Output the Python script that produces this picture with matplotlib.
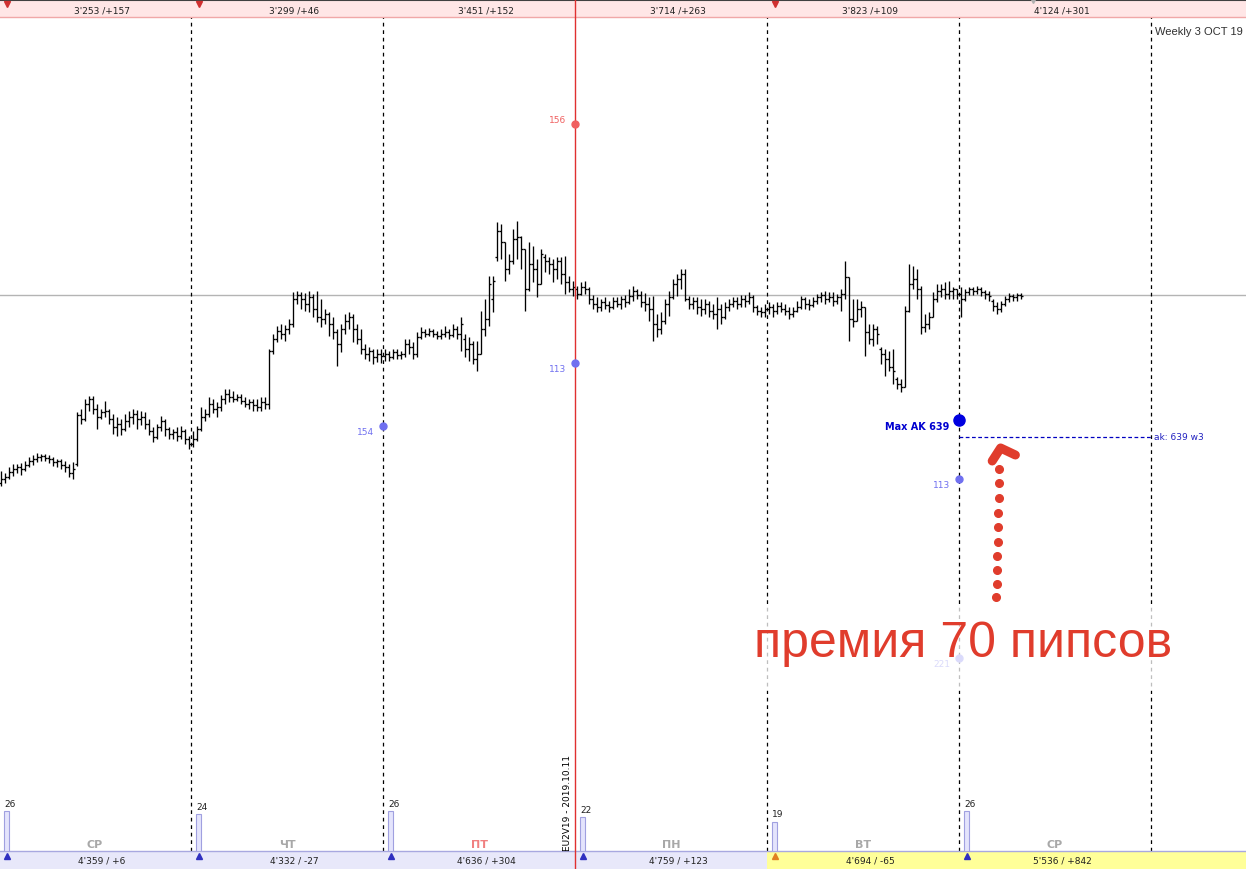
import numpy as np
import matplotlib
matplotlib.use('Agg')
from matplotlib import pyplot as plt
from matplotlib.patches import Rectangle

# half-hour bars, price in points (48 bars per day)
opens = [
    116,120,122,127,130,132,130,134,138,140,142,143,141,140,137,138,134,132,126,135,184,180,195,200,190,182,187,188,180,172,175,170,178,182,185,180,182,175,168,162,172,178,170,165,167,163,168,160,
    155,160,170,182,185,195,190,192,200,205,202,200,202,198,195,197,194,192,197,195,248,260,268,265,270,275,300,304,300,295,302,290,282,280,285,275,267,255,270,278,282,270,260,250,245,248,242,245,
    243,245,242,247,244,245,255,252,245,262,267,265,268,265,263,265,267,264,270,265,260,250,255,240,245,270,280,300,342,368,357,330,338,360,362,350,310,335,330,315,342,338,335,330,338,325,317,310,
    310,305,312,310,300,295,292,297,294,292,298,295,300,297,303,308,304,297,295,290,275,270,278,295,302,315,320,325,300,295,298,292,290,295,288,285,290,282,292,295,298,295,300,298,302,292,288,287,
    290,292,288,293,290,288,285,288,292,300,295,294,298,302,304,300,302,298,302,305,322,280,278,290,292,267,260,270,250,245,240,232,220,215,212,288,315,320,310,272,275,282,300,308,310,305,308,310,
    305,300,307,310,308,310,307,305,298,293,290,295,300,303,302,304]
highs = [
    128,126,132,135,135,136,138,142,144,146,145,145,144,142,140,140,138,135,137,187,190,200,203,203,195,190,198,190,185,182,180,185,188,190,189,188,187,180,172,175,183,180,172,170,172,173,170,163,
    168,173,192,190,202,200,197,204,210,210,208,205,205,202,200,200,200,202,202,250,265,273,275,274,280,307,308,307,306,308,305,308,300,290,287,282,270,275,285,287,285,275,270,255,252,250,250,250,
    250,248,250,250,248,260,260,257,267,272,270,271,270,268,270,273,270,275,273,282,265,262,258,258,288,300,323,323,377,375,357,345,370,378,363,350,357,353,340,350,345,342,340,342,342,343,323,318,
    313,317,318,312,304,302,300,302,298,302,302,303,304,310,313,310,308,306,302,303,285,287,300,308,320,325,330,330,303,302,302,300,300,298,295,302,295,297,300,302,302,304,304,307,304,294,292,295,
    297,295,297,297,295,292,292,298,303,302,300,302,305,307,308,307,307,305,310,338,322,300,300,298,292,275,275,273,252,250,248,250,222,220,293,335,333,330,313,285,287,307,315,315,317,318,312,310,
    312,310,312,312,313,312,309,308,300,297,298,303,306,305,306,306]
lows = [
    113,116,120,123,126,124,128,132,134,137,138,138,136,133,132,130,127,122,120,133,175,178,188,185,170,180,182,175,165,163,164,168,172,175,170,174,170,164,157,160,168,163,160,160,158,160,155,150,
    152,158,168,178,182,186,182,188,195,197,197,198,195,192,190,188,188,188,190,190,245,257,260,258,265,272,295,290,288,287,282,277,272,275,263,260,233,247,265,270,257,255,245,240,238,235,237,236,
    238,238,240,240,240,242,245,240,242,260,262,263,262,260,260,262,260,262,260,248,242,238,235,228,245,263,273,287,338,340,318,325,335,340,330,288,308,317,302,315,327,325,317,320,315,305,307,303,
    300,304,305,295,290,287,288,290,287,290,292,290,292,295,298,300,292,288,278,258,262,265,275,283,300,303,310,298,290,290,285,283,285,282,280,270,275,280,288,292,290,292,292,295,287,284,282,282,
    285,282,285,287,284,280,282,287,290,290,289,292,295,297,295,297,293,295,288,300,258,272,278,282,243,255,253,255,235,223,228,215,210,207,212,287,310,300,265,267,270,282,297,302,300,300,300,300,
    282,298,304,304,305,303,300,298,288,285,287,293,297,298,298,300]
closes = [
    120,122,127,130,132,130,134,138,140,142,143,141,140,137,138,134,132,126,130,184,180,195,200,190,182,187,188,180,172,175,170,178,182,185,180,182,175,168,162,172,178,170,165,167,163,168,160,155,
    160,170,182,185,195,190,192,200,205,202,200,202,198,195,197,194,192,197,195,248,260,268,265,270,275,300,304,300,295,302,290,282,280,285,275,267,255,270,278,282,270,260,250,245,248,242,245,243,
    245,242,247,244,245,255,252,245,262,267,265,268,265,263,265,267,264,270,265,275,250,255,240,245,270,280,315,318,368,357,330,338,360,362,350,310,335,330,315,345,338,335,330,338,325,317,310,312,
    305,312,310,300,295,292,297,294,292,298,295,300,297,303,308,304,297,295,290,275,270,278,295,302,315,320,325,300,295,298,292,290,295,288,285,290,282,292,295,298,295,300,298,302,292,288,287,290,
    292,288,293,290,288,285,288,292,300,295,294,298,302,304,300,302,298,302,305,322,280,278,290,292,267,260,270,265,245,240,232,228,215,212,288,315,320,310,272,275,282,300,308,310,305,308,310,305,
    300,307,310,308,310,307,305,303,293,290,295,300,303,302,304,303]
last_price = 304

day_names = ['СР', 'ЧТ', 'ПТ', 'ПН', 'ВТ', 'СР']
top_labels = ["3'253 /+157", "3'299 /+46", "3'451 /+152", "3'714 /+263", "3'823 /+109", "4'124 /+301"]
bottom_labels = ["4'359 / +6", "4'332 / -27", "4'636 / +304", "4'759 / +123", "4'694 / -65", "5'536 / +842"]
day_counts = [26, 24, 26, 22, 19, 26]

# levels on the day separators: (bar position, price, label, colour)
levels = [(143.5, 475, '156', '#f06060'),
          (143.5, 236, '113', '#7070f0'),
          (95.5, 173, '154', '#7070f0'),
          (239.5, 120, '113', '#7070f0'),
          (239.5, -59, '221', '#7070f0')]
max_ak = 179
ak_level = 162
arrow_dots = [2, 15, 29, 43, 57, 72, 86, 101, 116, 130]

BARS_PER_DAY = 48
seps = np.arange(-0.5, 288, BARS_PER_DAY)

fig = plt.figure(figsize=(12.46, 8.70), dpi=100)
ax = fig.add_axes([0, 0, 1, 1])
ax.set_xlim(-0.25, 311.25)
ax.set_ylim(-270, 600)
ax.axis('off')

x = np.arange(len(closes))
ax.axhline(last_price, color='#b4b4b4', lw=1.0, zorder=1)
ax.vlines(x, lows, highs, color='black', lw=0.95, zorder=3)
ax.hlines(opens, x - 0.45, x, color='black', lw=0.95, zorder=3)
ax.hlines(closes, x, x + 0.45, color='black', lw=0.95, zorder=3)

# day separators
for s in seps[1:]:
    if s == 143.5:
        continue
    ax.vlines(s, -252, 582, color='black', lw=0.9, linestyles=(0, (3, 3)), zorder=2)
ax.axvline(143.5, color='#e03030', lw=1.0, zorder=6)

# top and bottom strips
ax.add_patch(Rectangle((-0.25, 582), 311.5, 18, facecolor='#ffe6e6', edgecolor='none', zorder=4))
ax.axhline(582, color='#f0a8a8', lw=1.0, zorder=5)
ax.axhline(599.5, color='#404040', lw=1.5, zorder=5)
ax.add_patch(Rectangle((-0.25, -270), 191.75, 18, facecolor='#e8e8fa', edgecolor='none', zorder=4))
ax.add_patch(Rectangle((191.5, -270), 120, 18, facecolor='#ffff99', edgecolor='none', zorder=4))
ax.axhline(-252, color='#a8a8e0', lw=1.0, zorder=5)

for k in range(6):
    c = seps[k] + BARS_PER_DAY / 2
    ax.text(c + 1.75, 589, top_labels[k], ha='center', va='center', fontsize=6.5, color='#202020', zorder=7)
    ax.text(c + 1.75, -261, bottom_labels[k], ha='center', va='center', fontsize=6.5, color='#202020', zorder=7)
    ax.text(c, -245, day_names[k], ha='center', va='center', fontsize=8, fontweight='bold',
            color='#f08080' if day_names[k] == 'ПТ' else '#a8a8a8', zorder=7)
    ax.plot(seps[k] + 2, -257, marker='^', ms=5, color='#e08020' if k == 4 else '#3030c0', zorder=7)
for k in [0, 1, 4]:
    ax.plot(seps[k] + 2, 595, marker='v', ms=5, color='#d03030', zorder=7)
ax.plot(258, 599, marker='v', ms=5, color='#b0b0b0', zorder=7)

# counts per day
axv = fig.add_axes([0, 18 / 870, 1, 62 / 870])
axv.set_xlim(-0.25, 311.25)
axv.set_ylim(0, 40)
axv.axis('off')
axv.patch.set_alpha(0)
axv.bar(seps[:6] + 1.9, day_counts, width=1.25, color='#e4e4fc', edgecolor='#a0a0e0', lw=0.8)
for k in range(6):
    axv.text(seps[k] + 1.3, day_counts[k] + 2, str(day_counts[k]), ha='left', va='bottom', fontsize=6.5, color='#202020')

ax.text(141.75, -251, 'EU2V19 - 2019.10.11', rotation=90, ha='center', va='bottom', fontsize=6.5, color='black', zorder=7)
ax.text(310.5, 568, 'Weekly 3 OCT 19', ha='right', va='center', fontsize=8, color='#303030',
        family='Liberation Sans', zorder=7)

for xs, y, lab, col in levels:
    ax.plot(xs, y, 'o', ms=5, color=col, zorder=8)
    dy = 4 if lab == '156' else -6
    ax.text(xs - 2.2, y + dy, lab, ha='right', va='center', fontsize=6.5, color=col, zorder=8)

ax.plot(239.5, max_ak, 'o', ms=8, color='#0000e0', zorder=8)
ax.text(237.2, max_ak - 6, 'Max AK 639', ha='right', va='center', fontsize=7, fontweight='bold', color='#0000d0', zorder=8)
ax.hlines(ak_level, 239.5, 287.5, color='#0000c0', lw=0.9, linestyles=(0, (3, 2)), zorder=6)
ax.text(288.2, ak_level, 'ak: 639 w3', ha='left', va='center', fontsize=6.5, color='#2020c0', zorder=8)

# red hand-drawn arrow and caption
red = '#e03c2c'
ax.plot(np.linspace(248.8, 249.6, len(arrow_dots)), arrow_dots, 'o', ms=5.5, color=red, zorder=9)
ax.plot([247.8, 249.9, 253.6], [138, 151, 144], color=red, lw=6.5, solid_capstyle='round', solid_joinstyle='round', zorder=9)
ax.add_patch(Rectangle((188.5, -92), 105, 86, facecolor='white', alpha=0.75, edgecolor='none', zorder=8.5))
ax.text(240.5, -57, 'премия 70 пипсов', ha='center', va='baseline', fontsize=36, color=red,
        family='Liberation Sans', zorder=10)

plt.savefig('out.png', dpi=100)
plt.close()
